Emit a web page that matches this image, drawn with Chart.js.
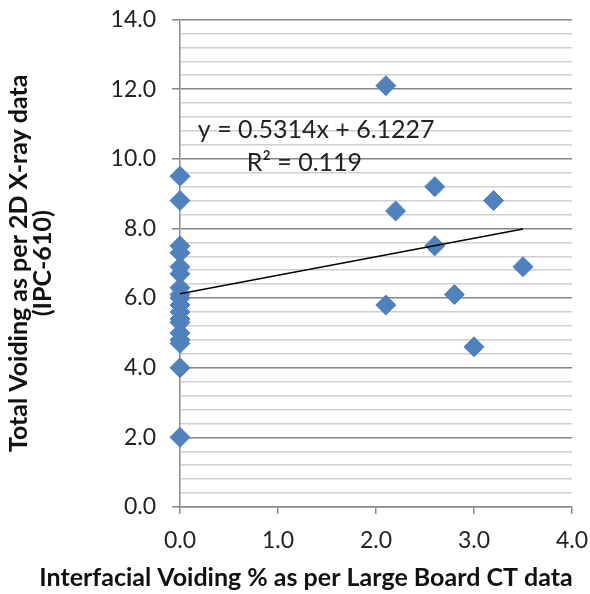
<!DOCTYPE html>
<html>
<head>
<meta charset="utf-8">
<script src="https://cdn.jsdelivr.net/npm/chart.js@4/dist/chart.umd.min.js"></script>
<style>
html,body{margin:0;padding:0;background:#fff;}
canvas{display:block;}
</style>
</head>
<body>
<canvas id="c" width="590" height="594"></canvas>
<script>
// Data
const voidingCT = [0,0,0,0,0,0,0,0,0,0,0,0,0,0,0,0,0,0, 2.1,2.6,2.2,3.2,2.6,3.5,2.1,2.8,3.0];
const voidingXray = [9.5,8.8,7.5,7.3,6.9,6.7,6.3,6.1,6.0,5.8,5.6,5.4,5.3,5.0,4.8,4.7,4.0,2.0, 12.1,9.2,8.5,8.8,7.5,6.9,5.8,6.1,4.6];
const trendSlope = 0.5314;
const trendIntercept = 6.1227;
const trendRange = [0, 3.5];
const equationText = 'y = 0.5314x + 6.1227';
const rSquaredText = 'R² = 0.119';
const xTitle = 'Interfacial Voiding % as per Large Board CT data';
const yTitle = ['Total Voiding as per 2D X-ray data', '(IPC-610)'];

const points = voidingCT.map((x, i) => ({x: x, y: voidingXray[i]}));
const trend = trendRange.map(x => ({x: x, y: trendSlope * x + trendIntercept}));

const FONT = 'Lato, "Open Sans", sans-serif';
const isMajor = v => Math.abs(v / 2 - Math.round(v / 2)) < 1e-6;

const textPlugin = {
  id: 'texts',
  afterDatasetsDraw(chart) {
    const {ctx, scales} = chart;
    ctx.save();
    ctx.fillStyle = '#222';
    ctx.textAlign = 'center';
    ctx.textBaseline = 'middle';
    ctx.font = '25px ' + FONT;
    ctx.fillText(equationText, scales.x.getPixelForValue(1.39), scales.y.getPixelForValue(10.83));
    ctx.fillText(rSquaredText, scales.x.getPixelForValue(1.27), scales.y.getPixelForValue(9.88));
    // x axis title (drawn here so it can extend past the plot width)
    ctx.fillStyle = '#111';
    ctx.font = 'bold 25px ' + FONT;
    ctx.fillText(xTitle, 306, 578);
    ctx.restore();
  }
};

new Chart(document.getElementById('c'), {
  type: 'scatter',
  data: {
    datasets: [
      {
        label: 'Trend',
        type: 'line',
        data: trend,
        borderColor: '#000',
        borderWidth: 1.5,
        pointRadius: 0,
        fill: false,
        order: 0
      },
      {
        label: 'Voiding',
        data: points,
        clip: false,
        pointStyle: 'rectRot',
        pointRadius: 10,
        pointBackgroundColor: '#4F81BD',
        pointBorderColor: '#4F81BD',
        pointBorderWidth: 1,
        order: 1
      }
    ]
  },
  options: {
    responsive: false,
    animation: false,
    layout: {padding: {top: 19.5, right: 18, left: 7, bottom: 0}},
    plugins: {legend: {display: false}, tooltip: {enabled: false}},
    scales: {
      x: {
        type: 'linear',
        min: 0, max: 4,
        ticks: {
          stepSize: 1,
          color: '#222',
          font: {family: FONT, size: 23},
          padding: 13,
          callback: v => v.toFixed(1)
        },
        grid: {
          drawOnChartArea: false,
          tickLength: 7,
          tickColor: '#8c8c8c',
          lineWidth: 1.5
        },
        border: {color: '#8c8c8c', width: 1.5},
        title: {display: false},
        afterFit(scale) {
          scale.height = 87;
          scale.paddingLeft = 0;
          scale.paddingRight = 0;
        }
      },
      y: {
        type: 'linear',
        min: 0, max: 14,
        ticks: {
          stepSize: 0.4,
          autoSkip: false,
          color: '#222',
          font: {family: FONT, size: 23},
          padding: 16,
          callback: v => (isMajor(v) ? v.toFixed(1) : '')
        },
        grid: {
          color: ctx => (isMajor(ctx.tick ? ctx.tick.value : 0) ? '#858585' : '#cfcfcf'),
          lineWidth: 1.5,
          tickLength: 8,
          tickColor: ctx => (isMajor(ctx.tick ? ctx.tick.value : 0) ? '#858585' : 'rgba(0,0,0,0)')
        },
        border: {color: '#8c8c8c', width: 1.5},
        title: {
          display: true,
          text: yTitle,
          color: '#111',
          font: {family: FONT, size: 25, weight: 'bold', lineHeight: 0.96},
          padding: {top: 0, bottom: 0}
        },
        afterFit(scale) {
          scale.width = 173;
          scale.paddingTop = 0;
          scale.paddingBottom = 0;
        }
      }
    }
  },
  plugins: [textPlugin]
});
</script>
</body>
</html>
